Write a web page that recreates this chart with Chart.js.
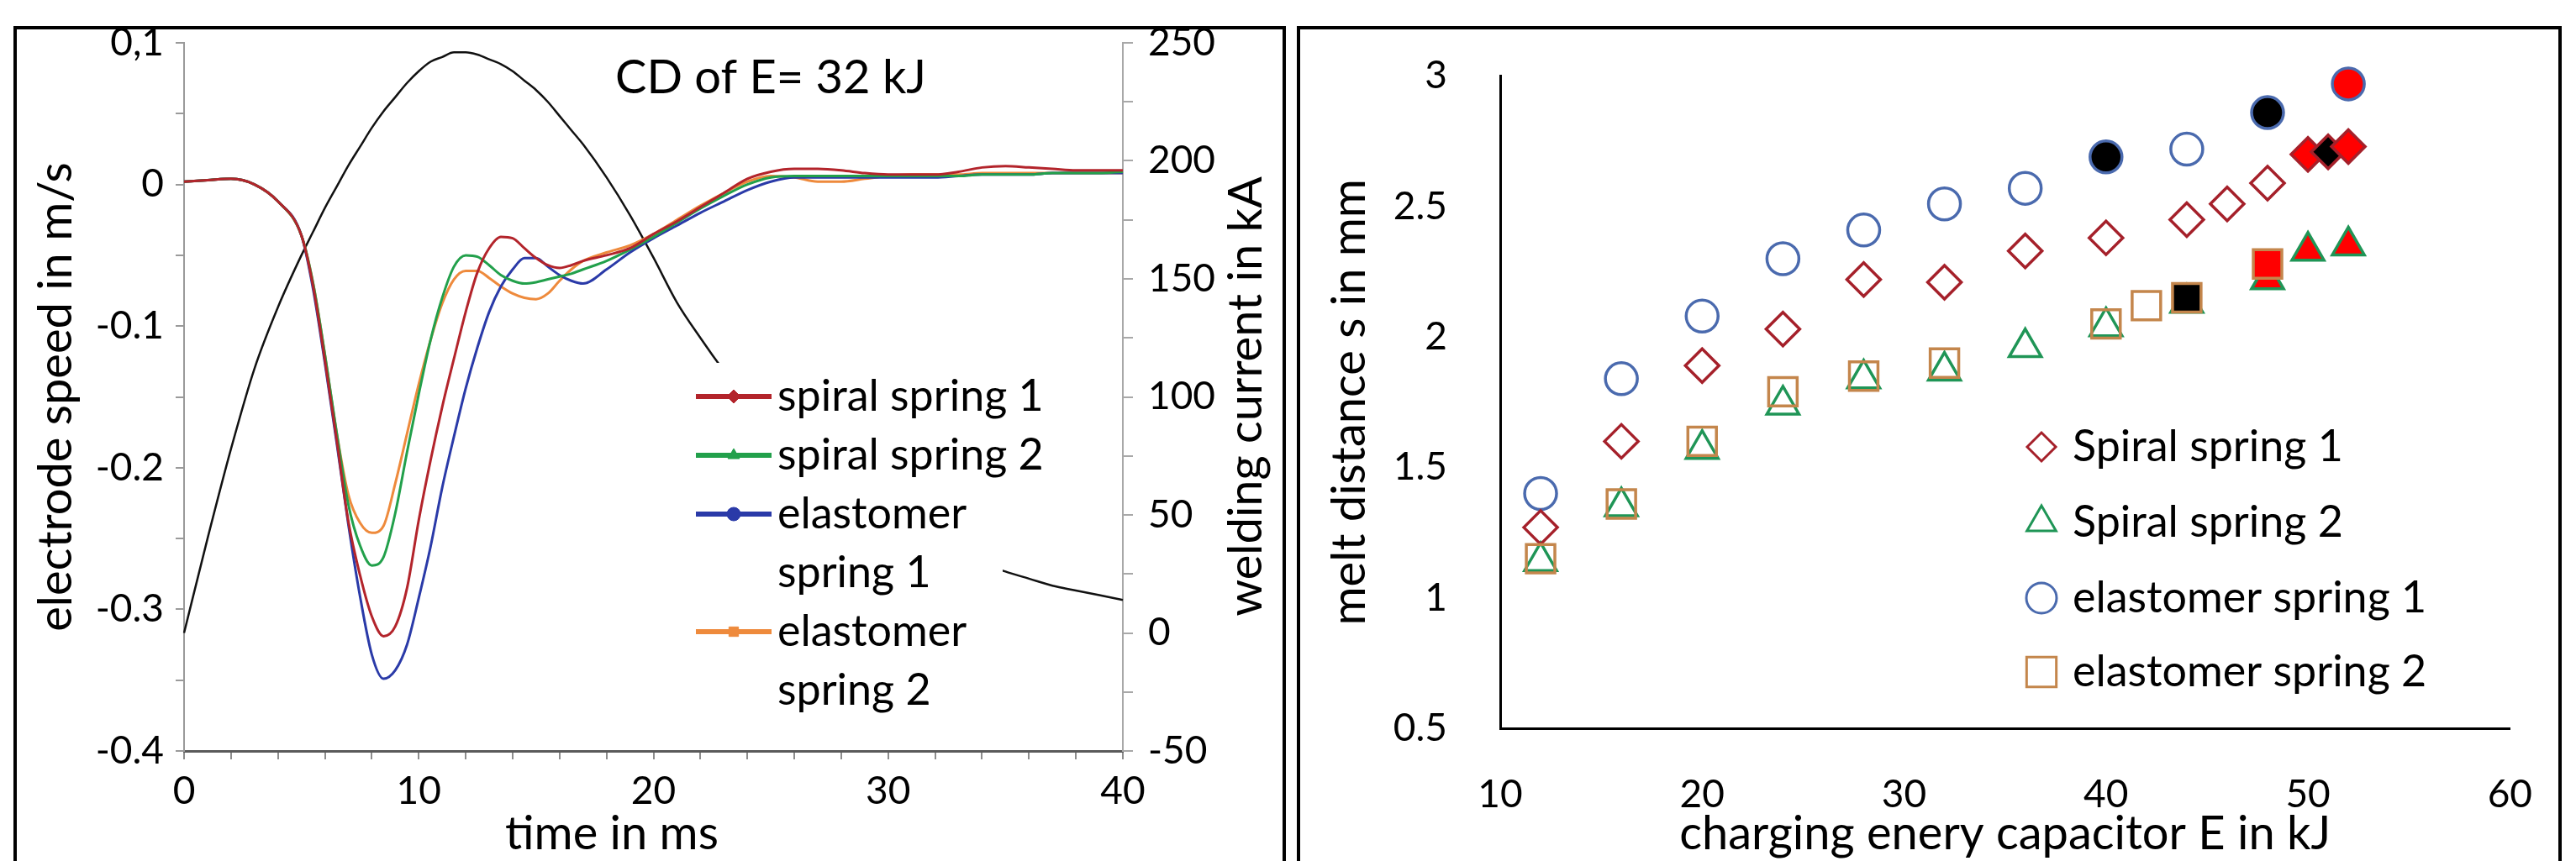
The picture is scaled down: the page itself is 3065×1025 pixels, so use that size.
<!DOCTYPE html>
<html>
<head>
<meta charset="utf-8">
<script src="https://cdn.jsdelivr.net/npm/chart.js@4.4.1/dist/chart.umd.min.js"></script>
<style>
  html, body { margin: 0; padding: 0; background: #fff; overflow: hidden; width: 3065px; height: 1025px; }
  canvas { position: absolute; top: 0; }
  #left { left: 0; }
  #right { left: 1530px; }
  .frame { position: absolute; top: 31px; height: 1100px; border: 4px solid #000; box-sizing: border-box; pointer-events: none; }
</style>
</head>
<body>
<canvas id="left" width="1530" height="1060"></canvas>
<canvas id="right" width="1535" height="1060"></canvas>
<div class="frame" style="left:16px; width:1514px;"></div>
<div class="frame" style="left:1543px; width:1505px;"></div>
<script>
// ---- left: electrode speed and welding current, CD of E = 32 kJ ----
var timeMs = [0, 1, 2, 3, 4, 5, 5.5, 6, 6.5, 7, 7.5, 8, 8.5, 9, 9.5, 10, 10.5, 11, 11.5, 12, 12.5, 13, 13.5, 14, 14.5, 15, 15.5, 16, 16.5, 17,
  18, 19, 20, 21, 22, 23, 24, 25, 26, 27, 28, 29, 30, 31, 32, 33, 34, 35, 36, 37, 38, 39, 40];

var speedSpiral1 = [0.002, 0.003, 0.004, 0.000, -0.012, -0.036,
  -0.072, -0.124, -0.180, -0.238, -0.276, -0.305, -0.319, -0.312, -0.285, -0.237, -0.195, -0.157, -0.123, -0.090, -0.062, -0.045,
  -0.037, -0.038, -0.045, -0.052, -0.057, -0.059, -0.057, -0.054,
  -0.050, -0.045, -0.035, -0.026, -0.016, -0.006, 0.004, 0.009, 0.011, 0.011, 0.010, 0.008, 0.007, 0.007, 0.007, 0.009, 0.012,
  0.013, 0.012, 0.011, 0.010, 0.010, 0.010];
var speedSpiral2 = [0.002, 0.003, 0.004, 0.000, -0.012, -0.036,
  -0.070, -0.120, -0.175, -0.226, -0.255, -0.269, -0.263, -0.232, -0.189, -0.148, -0.110, -0.080, -0.058, -0.050, -0.051, -0.057,
  -0.064, -0.068, -0.070, -0.069, -0.067, -0.065, -0.063, -0.060,
  -0.054, -0.046, -0.037, -0.027, -0.017, -0.008, 0.000, 0.005, 0.006, 0.006, 0.006, 0.006, 0.006, 0.006, 0.006, 0.006, 0.007,
  0.007, 0.007, 0.008, 0.008, 0.008, 0.009];
var speedElast1 = [0.002, 0.003, 0.004, 0.000, -0.012, -0.036,
  -0.074, -0.126, -0.182, -0.240, -0.291, -0.332, -0.349, -0.343, -0.325, -0.292, -0.256, -0.214, -0.178, -0.144, -0.115, -0.090,
  -0.072, -0.060, -0.052, -0.052, -0.058, -0.064, -0.068, -0.070,
  -0.060, -0.048, -0.038, -0.029, -0.020, -0.012, -0.004, 0.002, 0.005, 0.005, 0.005, 0.005, 0.005, 0.005, 0.005, 0.006, 0.007,
  0.007, 0.007, 0.008, 0.008, 0.008, 0.008];
var speedElast2 = [0.002, 0.003, 0.004, 0.000, -0.012, -0.036,
  -0.070, -0.120, -0.175, -0.219, -0.239, -0.246, -0.241, -0.211, -0.176, -0.141, -0.110, -0.084, -0.067, -0.061, -0.061, -0.066,
  -0.072, -0.077, -0.080, -0.081, -0.077, -0.068, -0.060, -0.054,
  -0.048, -0.043, -0.035, -0.025, -0.015, -0.006, 0.002, 0.006, 0.005, 0.002, 0.002, 0.004, 0.006, 0.007, 0.007, 0.007, 0.008,
  0.008, 0.008, 0.008, 0.008, 0.008, 0.008];
var currentKA = [0, 40, 78, 112, 138, 160,
  170, 180, 189, 198, 206, 214, 221, 227, 233, 238, 242, 244, 246, 246, 245, 243, 241, 238, 234, 230, 225, 219, 213, 207,
  193, 177, 159, 140, 125, 111, 98, 87, 77, 68, 60, 53, 47, 42, 37, 33, 30, 26, 23, 20, 18, 16, 14];

var speedLabels = ['0,1', '0', '-0.1', '-0.2', '-0.3', '-0.4'];
var currentLabels = ['250', '200', '150', '100', '50', '0', '-50'];
var legendLines = [['spiral spring 1'], ['spiral spring 2'], ['elastomer', 'spring 1'], ['elastomer', 'spring 2']];
var legendMarks = ['rectRot', 'triangle', 'circle', 'rect'];

// ---- right: melt distance over charging energy ----
var energySpiral1 = [12, 16, 20, 24, 28, 32, 36, 40, 44, 46, 48, 50, 51, 52];
var meltSpiral1 = [1.27, 1.60, 1.89, 2.03, 2.22, 2.21, 2.33, 2.38, 2.45, 2.51, 2.59, 2.70, 2.71, 2.73];
var energySpiral2 = [12, 16, 20, 24, 28, 32, 36, 40, 44, 48, 50, 52];
var meltSpiral2 = [1.14, 1.35, 1.57, 1.74, 1.84, 1.87, 1.96, 2.04, 2.13, 2.22, 2.33, 2.35];
var energyElast1 = [12, 16, 20, 24, 28, 32, 36, 40, 44, 48, 52];
var meltElast1 = [1.40, 1.84, 2.08, 2.30, 2.41, 2.51, 2.57, 2.69, 2.72, 2.86, 2.97];
var energyElast2 = [12, 16, 20, 24, 28, 32, 40, 42, 44, 48];
var meltElast2 = [1.15, 1.36, 1.60, 1.79, 1.85, 1.90, 2.05, 2.12, 2.15, 2.28];
var meltLabels = ['0.5', '1', '1.5', '2', '2.5', '3'];

// filled markers in the original, keyed by energy
var solidSpiral1 = {50: '#ff0000', 51: '#000000', 52: '#ff0000'};
var solidSpiral2 = {44: '#000000', 48: '#ff0000', 50: '#ff0000', 52: '#ff0000'};
var solidElast1 = {40: '#000000', 48: '#000000', 52: '#ff0000'};
var solidElast2 = {44: '#000000', 48: '#ff0000'};

Chart.defaults.font.family = 'Lato';
Chart.defaults.color = '#000';

function pts(xs, ys) {
  return xs.map(function (x, i) { return {x: x, y: ys[i]}; });
}
function fills(xs, solid) {
  return xs.map(function (x) { return solid[x] || 'rgba(255,255,255,0)'; });
}
function curve(label, ys, color, axis, width) {
  return {
    label: label, data: pts(timeMs, ys), yAxisID: axis,
    borderColor: color, backgroundColor: color, borderWidth: width,
    pointRadius: 0, cubicInterpolationMode: 'monotone', clip: false
  };
}

var leftOverlay = {
  id: 'leftOverlay',
  afterDatasetsDraw: function (chart) {
    var ctx = chart.ctx;
    ctx.save();
    // legend box is opaque and hides the current curve
    ctx.fillStyle = '#fff';
    ctx.fillRect(815, 432, 378, 425);
    ctx.font = '52px Lato';
    ctx.textBaseline = 'middle';
    var y = 472;
    for (var i = 0; i < 4; i++) {
      var ds = chart.data.datasets[i];
      ctx.strokeStyle = ds.borderColor;
      ctx.lineWidth = 6;
      ctx.beginPath();
      ctx.moveTo(828, y);
      ctx.lineTo(918, y);
      ctx.stroke();
      ctx.fillStyle = ds.borderColor;
      ctx.lineWidth = 1;
      Chart.helpers.drawPoint(ctx, {pointStyle: legendMarks[i], radius: 8, borderWidth: 1, rotation: 0}, 873, y);
      ctx.fillStyle = '#000';
      legendLines[i].forEach(function (line) {
        ctx.fillText(line, 925, y);
        y += 70;
      });
    }
    ctx.restore();
  },
  afterDraw: function (chart) {
    var ctx = chart.ctx;
    ctx.save();
    ctx.fillStyle = '#000';
    ctx.textBaseline = 'middle';
    ctx.font = '56px Lato';
    ctx.textAlign = 'left';
    ctx.fillText('CD of E= 32 kJ', 732, 93);
    ctx.textAlign = 'center';
    ctx.fillText('time in ms', 728, 993);
    ctx.translate(1483, 472);
    ctx.rotate(-Math.PI / 2);
    ctx.fillText('welding current in kA', 0, 0);
    ctx.restore();
  }
};

new Chart(document.getElementById('left'), {
  type: 'line',
  data: {
    datasets: [
      curve('spiral spring 1', speedSpiral1, '#b3242b', 'y', 3),
      curve('spiral spring 2', speedSpiral2, '#22a04b', 'y', 3),
      curve('elastomer spring 1', speedElast1, '#2a3aa8', 'y', 3),
      curve('elastomer spring 2', speedElast2, '#ee8a3c', 'y', 3),
      curve('welding current', currentKA, '#111111', 'y2', 2.5)
    ]
  },
  options: {
    responsive: false,
    animation: false,
    events: [],
    layout: {padding: {left: 0, top: 51, right: 34, bottom: 36}},
    plugins: {legend: {display: false}, tooltip: {enabled: false}},
    scales: {
      x: {
        type: 'linear', min: 0, max: 40,
        afterFit: function (s) { s.height = 130; },
        ticks: {
          stepSize: 2, autoSkip: false, maxRotation: 0, padding: 11, font: {size: 46},
          callback: function (v) { return v % 10 === 0 ? String(v) : ''; }
        },
        grid: {drawOnChartArea: false, tickLength: 10, color: '#8c8c8c', lineWidth: 2},
        border: {color: '#5a5a5a', width: 3}
      },
      y: {
        type: 'linear', position: 'left', min: -0.4, max: 0.1,
        afterFit: function (s) { s.width = 219; },
        ticks: {
          stepSize: 0.05, autoSkip: false, padding: 14, font: {size: 46},
          callback: function (v) {
            var k = Math.round(v * 100);
            return k % 10 === 0 ? speedLabels[(10 - k) / 10] : '';
          }
        },
        grid: {drawOnChartArea: false, tickLength: 10, color: '#9a9a9a', lineWidth: 2},
        border: {color: '#9a9a9a', width: 2},
        title: {display: true, text: 'electrode speed in m/s', font: {size: 56}, padding: {top: 33, bottom: 0}}
      },
      y2: {
        type: 'linear', position: 'right', min: -50, max: 250,
        afterFit: function (s) { s.width = 160; },
        ticks: {
          stepSize: 25, autoSkip: false, padding: 18, font: {size: 46},
          callback: function (v) { return v % 50 === 0 ? currentLabels[(250 - v) / 50] : ''; }
        },
        grid: {drawOnChartArea: false, tickLength: 12, color: '#a8a8a8', lineWidth: 2},
        border: {color: '#a8a8a8', width: 2}
      }
    }
  },
  plugins: [leftOverlay]
});

var rightLegend = {
  id: 'rightLegend',
  afterDatasetsDraw: function (chart) {
    var ctx = chart.ctx;
    var rows = [532, 622, 712, 800];
    ctx.save();
    ctx.font = '52px Lato';
    ctx.textBaseline = 'middle';
    chart.data.datasets.forEach(function (ds, i) {
      ctx.strokeStyle = ds.borderColor;
      ctx.fillStyle = 'rgba(255,255,255,0)';
      ctx.lineWidth = 3;
      Chart.helpers.drawPoint(ctx, {pointStyle: ds.pointStyle, radius: ds.legendRadius, borderWidth: 3, rotation: 0}, 899, rows[i]);
      ctx.fillStyle = '#000';
      ctx.fillText(ds.label, 936, rows[i]);
    });
    ctx.restore();
  }
};

function marks(label, xs, ys, solid, style, color, radius, legendRadius, order) {
  return {
    label: label, data: pts(xs, ys), pointStyle: style, order: order,
    borderColor: color, pointBorderColor: color, pointBackgroundColor: fills(xs, solid),
    pointRadius: radius, pointBorderWidth: 3.5, legendRadius: legendRadius, clip: false
  };
}

new Chart(document.getElementById('right'), {
  type: 'scatter',
  data: {
    datasets: [
      marks('Spiral spring 1', energySpiral1, meltSpiral1, solidSpiral1, 'rectRot', '#a5202a', 20, 17, 1),
      marks('Spiral spring 2', energySpiral2, meltSpiral2, solidSpiral2, 'triangle', '#1f9556', 22, 20, 1),
      marks('elastomer spring 1', energyElast1, meltElast1, solidElast1, 'circle', '#4a6aae', 19, 18, 1),
      marks('elastomer spring 2', energyElast2, meltElast2, solidElast2, 'rect', '#c4864c', 24, 25, 0)
    ]
  },
  options: {
    responsive: false,
    animation: false,
    events: [],
    layout: {padding: {left: 0, top: 83, right: 75, bottom: 33}},
    plugins: {legend: {display: false}, tooltip: {enabled: false}},
    scales: {
      x: {
        type: 'linear', min: 10, max: 60,
        afterFit: function (s) { s.height = 160; },
        ticks: {stepSize: 10, maxRotation: 0, padding: 52, font: {size: 46}},
        grid: {display: false, drawTicks: false},
        border: {color: '#000', width: 3},
        title: {display: true, text: 'charging enery capacitor E in kJ', font: {size: 56}, padding: {top: 0, bottom: 0}}
      },
      y: {
        type: 'linear', min: 0.5, max: 3,
        afterFit: function (s) { s.width = 255; },
        ticks: {
          stepSize: 0.5, padding: 63, font: {size: 46},
          callback: function (v) { return meltLabels[Math.round((v - 0.5) * 2)]; }
        },
        grid: {display: false, drawTicks: false},
        border: {color: '#000', width: 3},
        title: {display: true, text: 'melt distance s in mm', font: {size: 56}, padding: {top: 42, bottom: 0}}
      }
    }
  },
  plugins: [rightLegend]
});
</script>
</body>
</html>
